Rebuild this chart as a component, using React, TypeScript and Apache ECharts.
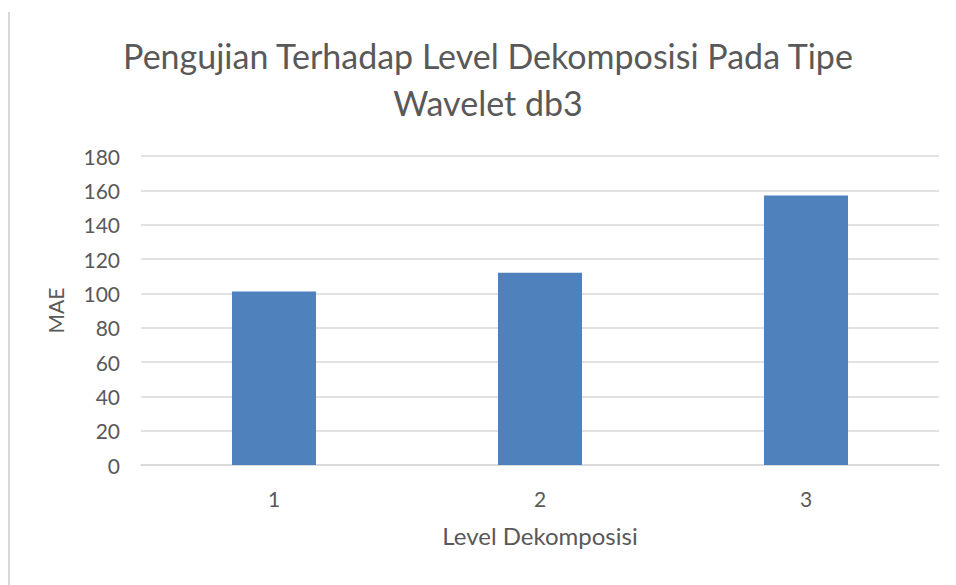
import React, { useEffect, useRef } from "react";
import * as echarts from "echarts";

const categories = ["1", "2", "3"];
const maeValues = [101, 112, 157];
const titleLines = ["Pengujian Terhadap Level Dekomposisi Pada Tipe", "Wavelet db3"];
const xAxisName = "Level Dekomposisi";
const yAxisName = "MAE";

const FONT = "Lato, 'Open Sans', sans-serif";
const TEXT = "#595959";

export default function App() {
  const ref = useRef<HTMLDivElement>(null);
  useEffect(() => {
    if (!ref.current) return;
    const chart = echarts.init(ref.current, undefined, { renderer: "svg" });
    chart.setOption({
      animation: false,
      backgroundColor: "#ffffff",
      title: {
        text: titleLines.join("\n"),
        left: 483,
        top: 27,
        textAlign: "center",
        textStyle: { fontFamily: FONT, fontSize: 34, fontWeight: "normal", color: TEXT, lineHeight: 47 },
      },
      graphic: [
        { type: "line", shape: { x1: 9, y1: 12, x2: 9, y2: 585 }, style: { stroke: "#d9d9d9", lineWidth: 2 } },
      ],
      grid: { left: 141, right: 17, top: 156, bottom: 120, containLabel: false },
      xAxis: {
        type: "category",
        data: categories,
        name: xAxisName,
        nameLocation: "middle",
        nameGap: 58,
        nameTextStyle: { fontFamily: FONT, fontSize: 24, color: TEXT },
        axisLine: { lineStyle: { color: "#d9d9d9", width: 1.5 } },
        axisTick: { show: false },
        axisLabel: { fontFamily: FONT, fontSize: 21, color: TEXT, margin: 23 },
      },
      yAxis: {
        type: "value",
        min: 0,
        max: 180,
        interval: 20,
        name: yAxisName,
        nameLocation: "middle",
        nameGap: 75,
        nameRotate: 90,
        nameTextStyle: { fontFamily: FONT, fontSize: 21, color: TEXT },
        axisLine: { show: false },
        axisTick: { show: false },
        axisLabel: { fontFamily: FONT, fontSize: 21, color: TEXT, margin: 21 },
        splitLine: { lineStyle: { color: "#d9d9d9", width: 1.5 } },
      },
      series: [
        {
          type: "bar",
          data: maeValues,
          barWidth: "31.6%",
          itemStyle: { color: "#4f81bd" },
        },
      ],
    });
    return () => chart.dispose();
  }, []);
  return <div ref={ref} style={{ width: 956, height: 585, position: "absolute", left: 0, top: 0 }} />;
}
